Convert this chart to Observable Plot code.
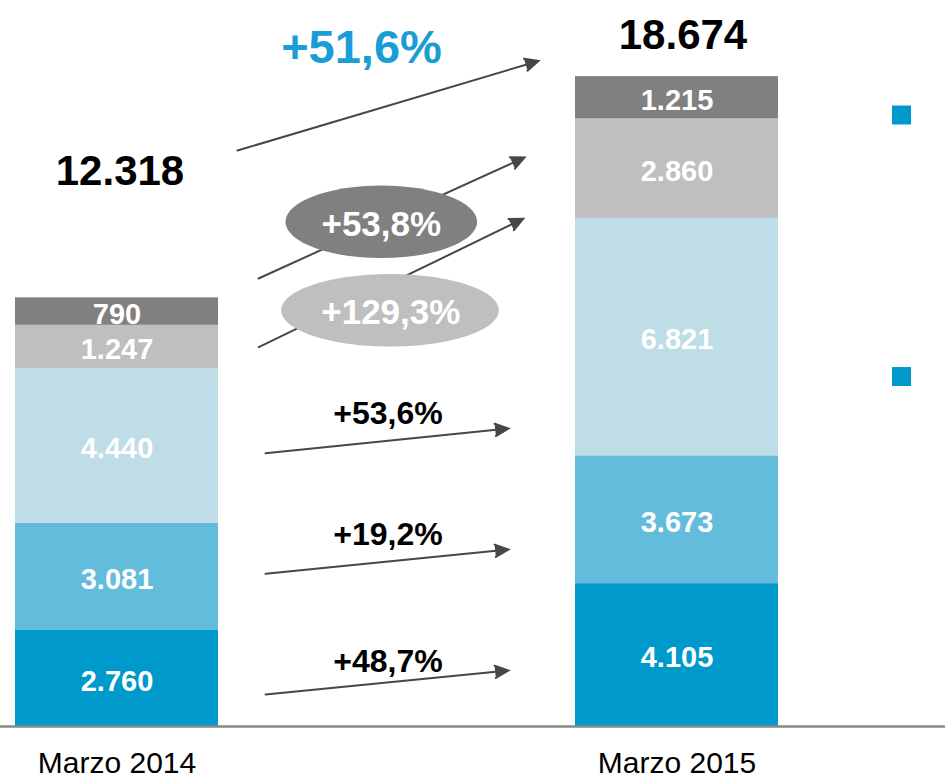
<!DOCTYPE html>
<html>
<head>
<meta charset="utf-8">
<script src="https://cdn.jsdelivr.net/npm/d3@7"></script>
<script src="https://cdn.jsdelivr.net/npm/@observablehq/plot@0.6"></script>
<style>
  html, body { margin: 0; padding: 0; background: #fff; }
</style>
</head>
<body>
<div id="chart"></div>
<script>
// ---------- data ----------
const periods = ["Marzo 2014", "Marzo 2015"];
const segments = ["Segmento 1", "Segmento 2", "Segmento 3", "Segmento 4", "Segmento 5"];
const values2014 = [2760, 3081, 4440, 1247, 790];
const values2015 = [4105, 3673, 6821, 2860, 1215];
const segmentColors = ["#0099CC", "#63BCDC", "#BEDDE6", "#BFBFBF", "#808080"];
// growth labels as printed (bottom -> top, last one is the total)
const growthLabels = ["+48,7%", "+19,2%", "+53,6%", "+129,3%", "+53,8%", "+51,6%"];

// annotation anchors (data units): growth arrows, bottom -> top, last one is the total
const arrowStartValue = [498, 3960, 7420, 8921, 11024, 15522];
const arrowEndValue = [2087, 5572, 9055, 16735, 18344, 20307];
const growthLabelValue = [1862, 5511, 8989, 11874, 14431, 19503];
const totalLabelValue = [15960, 19853];
const ellipseValue = [11963, 14503];       // segments 4 and 5 badges
const legendMarkerValue = [17572, 10057];

// ---------- helpers ----------
const loc = d3.formatLocale({decimal: ",", thousands: ".", grouping: [3], currency: ["", " €"]});
const fmtInt = loc.format(",d");

const rows = [];
periods.forEach((p, pi) => segments.forEach((s, si) =>
  rows.push({period: p, segment: s, value: (pi ? values2015 : values2014)[si]})));

const totals = [d3.sum(values2014), d3.sum(values2015)];

function ellipseSymbol(rx, ry) {
  const k = 0.5522847498;
  return {
    draw(context) {
      context.moveTo(rx, 0);
      context.bezierCurveTo(rx, ry * k, rx * k, ry, 0, ry);
      context.bezierCurveTo(-rx * k, ry, -rx, ry * k, -rx, 0);
      context.bezierCurveTo(-rx, -ry * k, -rx * k, -ry, 0, -ry);
      context.bezierCurveTo(rx * k, -ry, rx, -ry * k, rx, 0);
      context.closePath();
    }
  };
}

const arrowStyle = {
  stroke: "#474747", fill: "#474747", strokeWidth: 2,
  headLength: 11, headAngle: 50, strokeLinejoin: "miter", strokeMiterlimit: 10
};
function growthArrow(idx, insetStart, insetEnd) {
  return Plot.arrow(idx, {
    x1: () => periods[0], x2: () => periods[1],
    y1: i => arrowStartValue[i], y2: i => arrowEndValue[i],
    insetStart, insetEnd, ...arrowStyle
  });
}

const font = "'Liberation Sans', Arial, Helvetica, sans-serif";

const chart = Plot.plot({
  width: 945,
  height: 778,
  marginTop: 0, marginRight: 0, marginBottom: 52, marginLeft: 0,
  style: {fontFamily: font, fontSize: "30px", background: "#fff", color: "#000", overflow: "visible"},
  x: {domain: periods, paddingInner: 0.6375, paddingOuter: 0.1625, align: 0.0824,
      tickSize: 0, tickPadding: 25, label: null},
  y: {domain: [0, 20862], axis: null},
  color: {domain: segments, range: segmentColors},
  marks: [
    Plot.barY(rows, {x: "period", y: "value", fill: "segment"}),
    Plot.text(rows, Plot.stackY({
      x: "period", y: "value", text: d => fmtInt(d.value),
      fill: "white", fontWeight: "bold", fontSize: 29, dy: 3
    })),
    Plot.ruleY([0], {stroke: "#8a8a8a", strokeWidth: 2.5}),

    // growth arrows
    growthArrow([0, 1, 2], 149.3, 169.4),
    growthArrow([3], 157.6, 171.0),
    growthArrow([4], 155.5, 167.5),
    growthArrow([5], 125.7, 144.5),

    // badges for the grey segments
    Plot.dot([3], {x: () => periods[0], y: i => ellipseValue[i - 3], dx: 273,
      r: 10, symbol: ellipseSymbol(108.8, 36.3), fill: segmentColors[3], stroke: "none"}),
    Plot.dot([4], {x: () => periods[0], y: i => ellipseValue[i - 3], dx: 264.3,
      r: 10, symbol: ellipseSymbol(95.8, 36.3), fill: segmentColors[4], stroke: "none"}),

    // growth labels
    Plot.text([0, 1, 2], {x: () => periods[0], y: i => growthLabelValue[i], dx: 271,
      text: i => growthLabels[i], fill: "#000", fontWeight: "bold", fontSize: 32}),
    Plot.text([3], {x: () => periods[0], y: i => growthLabelValue[i], dx: 273.8,
      text: i => growthLabels[i], fill: "#fff", fontWeight: "bold", fontSize: 35}),
    Plot.text([4], {x: () => periods[0], y: i => growthLabelValue[i], dx: 264.3,
      text: i => growthLabels[i], fill: "#fff", fontWeight: "bold", fontSize: 35}),
    Plot.text([5], {x: () => periods[0], y: i => growthLabelValue[i], dx: 244.5,
      text: i => growthLabels[i], fill: "#1a9cd4", fontWeight: "bold", fontSize: 47}),

    // totals
    Plot.text([0], {x: i => periods[i], y: i => totalLabelValue[i], dx: 3,
      text: i => fmtInt(totals[i]), fill: "#000", fontWeight: "bold", fontSize: 42}),
    Plot.text([1], {x: i => periods[i], y: i => totalLabelValue[i], dx: 6,
      text: i => fmtInt(totals[i]), fill: "#000", fontWeight: "bold", fontSize: 42}),

    // legend markers (legend text is cropped in the original)
    Plot.dot(legendMarkerValue, {x: () => periods[1], y: d => d, dx: 224.5,
      r: 10.7, symbol: "square", fill: "#0099CC", stroke: "none"})
  ]
});
document.getElementById("chart").appendChild(chart);
</script>
</body>
</html>
